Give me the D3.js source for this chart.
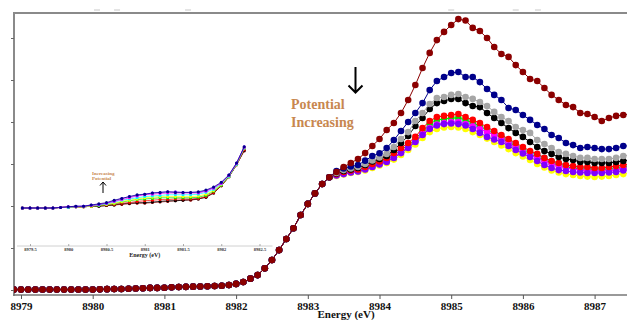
<!DOCTYPE html>
<html>
<head>
<meta charset="utf-8">
<script src="https://cdn.jsdelivr.net/npm/d3@7"></script>
<style>
  body { margin: 0; background: #fff; }
  figure { margin: 0; }
</style>
</head>
<body>
<figure id="xanes"></figure>
<script>
// Energy grid of the main plot (eV)
const energy = [
  8978.9,
  8979.0, 8979.1, 8979.2, 8979.3, 8979.4, 8979.5, 8979.6, 8979.7, 8979.8, 8979.9,
  8980.0, 8980.1, 8980.2, 8980.3, 8980.4, 8980.5, 8980.6, 8980.7, 8980.8, 8980.9,
  8981.0, 8981.1, 8981.2, 8981.3, 8981.4, 8981.5, 8981.6, 8981.7, 8981.8, 8981.9,
  8982.0, 8982.1, 8982.2, 8982.3, 8982.4, 8982.5, 8982.6, 8982.7, 8982.8, 8982.9,
  8983.0, 8983.1, 8983.2, 8983.3, 8983.4, 8983.5, 8983.6, 8983.7, 8983.8, 8983.9,
  8984.0, 8984.1, 8984.2, 8984.3, 8984.4, 8984.5, 8984.6, 8984.7, 8984.8, 8984.9,
  8985.0, 8985.1, 8985.2, 8985.3, 8985.4, 8985.5, 8985.6, 8985.7, 8985.8, 8985.9,
  8986.0, 8986.1, 8986.2, 8986.3, 8986.4, 8986.5, 8986.6, 8986.7, 8986.8, 8986.9,
  8987.0, 8987.1, 8987.2, 8987.3, 8987.4, 8987.5
];

// All scans overlap up to 8983.3 eV
const edgeRise = [
  0.002,
  0.002, 0.002, 0.002, 0.002, 0.002, 0.002, 0.002, 0.002, 0.002, 0.002,
  0.002, 0.003, 0.004, 0.005, 0.005, 0.006, 0.007, 0.008, 0.010, 0.010,
  0.011, 0.013, 0.014, 0.015, 0.016, 0.017, 0.018, 0.019, 0.020, 0.024,
  0.029, 0.038, 0.054, 0.071, 0.103, 0.143, 0.190, 0.243, 0.294, 0.357,
  0.410, 0.460, 0.505, 0.537
];

// From 8983.4 eV on, one list per scan
const darkRedTail = [
  0.562, 0.586, 0.605, 0.624, 0.652, 0.686, 0.719, 0.762, 0.795, 0.843,
  0.905, 0.976, 1.057, 1.129, 1.190, 1.229, 1.262, 1.290, 1.283, 1.248,
  1.233, 1.200, 1.157, 1.124, 1.110, 1.071, 1.038, 1.005, 0.995, 0.962,
  0.929, 0.905, 0.881, 0.871, 0.843, 0.838, 0.824, 0.805, 0.819, 0.829,
  0.833, 0.838
];
const navyTail = [
  0.567, 0.579, 0.588, 0.595, 0.616, 0.638, 0.651, 0.676, 0.714, 0.757,
  0.800, 0.843, 0.890, 0.952, 0.995, 1.014, 1.033, 1.038, 1.014, 1.014,
  0.990, 0.957, 0.929, 0.905, 0.867, 0.857, 0.833, 0.810, 0.786, 0.767,
  0.738, 0.724, 0.700, 0.690, 0.676, 0.681, 0.676, 0.671, 0.671, 0.676,
  0.686, 0.686
];
const grayTail = [
  0.557, 0.571, 0.579, 0.586, 0.600, 0.617, 0.631, 0.648, 0.681, 0.719,
  0.752, 0.805, 0.843, 0.886, 0.914, 0.919, 0.929, 0.933, 0.919, 0.910,
  0.895, 0.876, 0.848, 0.824, 0.805, 0.776, 0.762, 0.748, 0.714, 0.695,
  0.676, 0.657, 0.648, 0.638, 0.629, 0.629, 0.624, 0.624, 0.624, 0.629,
  0.638, 0.643
];
const blackTail = [
  0.555, 0.567, 0.574, 0.581, 0.595, 0.612, 0.624, 0.638, 0.667, 0.700,
  0.733, 0.781, 0.819, 0.862, 0.890, 0.900, 0.910, 0.910, 0.890, 0.876,
  0.871, 0.843, 0.819, 0.795, 0.771, 0.748, 0.729, 0.705, 0.681, 0.662,
  0.648, 0.633, 0.624, 0.619, 0.610, 0.610, 0.605, 0.605, 0.605, 0.610,
  0.614, 0.619
];
const redTail = [
  0.552, 0.562, 0.569, 0.574, 0.586, 0.600, 0.612, 0.629, 0.652, 0.676,
  0.700, 0.729, 0.771, 0.805, 0.824, 0.829, 0.833, 0.838, 0.824, 0.810,
  0.795, 0.776, 0.757, 0.738, 0.719, 0.700, 0.681, 0.662, 0.648, 0.629,
  0.614, 0.605, 0.595, 0.590, 0.586, 0.586, 0.581, 0.581, 0.586, 0.590,
  0.595, 0.600
];
const greenTail = [
  0.550, 0.560, 0.567, 0.571, 0.581, 0.595, 0.607, 0.621, 0.643, 0.667,
  0.690, 0.719, 0.757, 0.790, 0.810, 0.814, 0.819, 0.819, 0.810, 0.795,
  0.781, 0.762, 0.743, 0.724, 0.705, 0.686, 0.667, 0.648, 0.633, 0.619,
  0.605, 0.595, 0.586, 0.581, 0.576, 0.574, 0.571, 0.571, 0.574, 0.579,
  0.583, 0.588
];
const cyanTail = [
  0.548, 0.555, 0.562, 0.567, 0.576, 0.588, 0.600, 0.614, 0.633, 0.657,
  0.681, 0.710, 0.743, 0.771, 0.788, 0.795, 0.800, 0.800, 0.795, 0.786,
  0.776, 0.762, 0.748, 0.729, 0.712, 0.693, 0.674, 0.657, 0.643, 0.629,
  0.614, 0.605, 0.595, 0.588, 0.583, 0.581, 0.579, 0.579, 0.579, 0.583,
  0.588, 0.593
];
const magentaTail = [
  0.548, 0.555, 0.562, 0.567, 0.576, 0.588, 0.600, 0.614, 0.633, 0.657,
  0.681, 0.710, 0.743, 0.771, 0.788, 0.795, 0.800, 0.800, 0.790, 0.779,
  0.767, 0.752, 0.738, 0.719, 0.700, 0.679, 0.657, 0.643, 0.629, 0.614,
  0.600, 0.590, 0.581, 0.576, 0.571, 0.569, 0.567, 0.567, 0.567, 0.571,
  0.579, 0.583
];
const purpleTail = [
  0.545, 0.552, 0.560, 0.564, 0.574, 0.586, 0.598, 0.610, 0.629, 0.652,
  0.676, 0.705, 0.738, 0.767, 0.783, 0.790, 0.793, 0.790, 0.783, 0.767,
  0.748, 0.729, 0.717, 0.705, 0.686, 0.667, 0.650, 0.633, 0.614, 0.595,
  0.581, 0.571, 0.567, 0.562, 0.560, 0.557, 0.557, 0.557, 0.560, 0.562,
  0.569, 0.574
];
const yellowTail = [
  0.543, 0.550, 0.557, 0.562, 0.569, 0.581, 0.593, 0.605, 0.621, 0.643,
  0.667, 0.693, 0.724, 0.752, 0.767, 0.774, 0.776, 0.774, 0.767, 0.752,
  0.738, 0.721, 0.705, 0.688, 0.671, 0.652, 0.636, 0.619, 0.600, 0.583,
  0.569, 0.560, 0.552, 0.548, 0.543, 0.540, 0.538, 0.540, 0.543, 0.548,
  0.552, 0.557
];

const xTicks = [8979, 8980, 8981, 8982, 8983, 8984, 8985, 8986, 8987];
const yTicks = [0, 0.2, 0.4, 0.6, 0.8, 1.0, 1.2];
const topMarks = [8980.06, 8980.34, 8981.33, 8985.0, 8985.9, 8986.21];

// Pre-edge inset
const insetEnergy = [
  8979.4, 8979.5, 8979.6, 8979.7, 8979.8, 8979.9, 8980.0, 8980.1, 8980.2, 8980.3,
  8980.4, 8980.5, 8980.6, 8980.7, 8980.8, 8980.9, 8981.0, 8981.1, 8981.2, 8981.3,
  8981.4, 8981.5, 8981.6, 8981.7, 8981.8, 8981.9, 8982.0, 8982.1, 8982.2, 8982.3
];
const insetDarkRed = [
  0, 0, 0, 0, 0, 0.001, 0.001, 0.002, 0.002, 0.003,
  0.003, 0.004, 0.005, 0.006, 0.007, 0.008, 0.008, 0.009, 0.010, 0.011,
  0.012, 0.013, 0.013, 0.015, 0.018, 0.025, 0.037, 0.052, 0.072, 0.095
];
const insetBlack = [
  0, 0, 0, 0, 0, 0.001, 0.001, 0.002, 0.002, 0.003,
  0.003, 0.004, 0.005, 0.007, 0.008, 0.009, 0.009, 0.010, 0.011, 0.012,
  0.012, 0.013, 0.014, 0.015, 0.018, 0.025, 0.037, 0.052, 0.072, 0.096
];
const insetRed = [
  0, 0, 0, 0, 0, 0.001, 0.001, 0.002, 0.002, 0.003,
  0.004, 0.005, 0.006, 0.008, 0.009, 0.011, 0.012, 0.013, 0.014, 0.014,
  0.015, 0.015, 0.015, 0.016, 0.019, 0.026, 0.037, 0.052, 0.072, 0.097
];
const insetGreen = [
  0, 0, 0, 0, 0, 0.001, 0.001, 0.002, 0.002, 0.003,
  0.004, 0.006, 0.007, 0.010, 0.012, 0.014, 0.015, 0.016, 0.017, 0.017,
  0.017, 0.017, 0.017, 0.018, 0.021, 0.028, 0.038, 0.052, 0.073, 0.099
];
const insetYellow = [
  0, 0, 0, 0, 0, 0.001, 0.001, 0.002, 0.002, 0.003,
  0.005, 0.006, 0.008, 0.011, 0.013, 0.015, 0.017, 0.018, 0.019, 0.019,
  0.019, 0.019, 0.019, 0.020, 0.023, 0.029, 0.039, 0.053, 0.073, 0.100
];
const insetCyan = [
  0, 0, 0, 0, 0, 0.001, 0.001, 0.002, 0.003, 0.004,
  0.005, 0.007, 0.010, 0.013, 0.015, 0.017, 0.019, 0.020, 0.021, 0.022,
  0.022, 0.022, 0.022, 0.023, 0.026, 0.031, 0.040, 0.053, 0.073, 0.100
];
const insetMagenta = [
  0, 0, 0, 0, 0, 0.001, 0.002, 0.002, 0.003, 0.004,
  0.006, 0.008, 0.011, 0.014, 0.017, 0.020, 0.022, 0.023, 0.024, 0.025,
  0.025, 0.025, 0.025, 0.025, 0.028, 0.033, 0.041, 0.054, 0.074, 0.101
];
const insetPurple = [
  0, 0, 0, 0, 0, 0.001, 0.002, 0.003, 0.003, 0.005,
  0.006, 0.008, 0.012, 0.016, 0.019, 0.021, 0.023, 0.025, 0.026, 0.027,
  0.027, 0.026, 0.026, 0.026, 0.029, 0.034, 0.042, 0.055, 0.075, 0.102
];
const insetNavy = [
  0, 0, 0, 0, 0, 0.001, 0.002, 0.003, 0.003, 0.005,
  0.007, 0.009, 0.013, 0.016, 0.019, 0.022, 0.023, 0.025, 0.026, 0.027,
  0.026, 0.026, 0.026, 0.027, 0.030, 0.035, 0.043, 0.055, 0.075, 0.102
];
const insetTicks = [8979.5, 8980, 8980.5, 8981, 8981.5, 8982, 8982.5];

const serif = '"Liberation Serif", "Times New Roman", serif';
const noteColor = '#C8874F';

const width = 627;
const height = 320;

const svg = d3.select('figure#xanes')
  .append('svg')
  .attr('width', width)
  .attr('height', height);

// Main scales
const x = d3.scaleLinear().domain([8979, 8987]).range([21, 594.6]);
const y = d3.scaleLinear().domain([0, 1.2]).range([290, 38]);

// Inset scales
const ix = d3.scaleLinear().domain([8979.5, 8982.5]).range([30, 259.5]);
const iy = d3.scaleLinear().domain([0, 0.1]).range([208, 148]);

// Frame: top border and left axis
svg.append('line')
  .attr('x1', 13).attr('x2', width).attr('y1', 13).attr('y2', 13)
  .attr('stroke', '#8a8a8a').attr('stroke-width', 2);
svg.append('line')
  .attr('x1', 14).attr('x2', 14).attr('y1', 12).attr('y2', 296)
  .attr('stroke', '#8a8a8a').attr('stroke-width', 2);

svg.append('g')
  .selectAll('line')
  .data(topMarks)
  .enter()
  .append('line')
  .attr('x1', d => x(d) - 3).attr('x2', d => x(d) + 3)
  .attr('y1', 10).attr('y2', 10)
  .attr('stroke', '#c8c8c8').attr('stroke-width', 1);

// Left ticks (no labels)
const yAxis = svg.append('g')
  .attr('transform', 'translate(14,0)')
  .call(d3.axisLeft(y).tickValues(yTicks).tickSize(3).tickFormat(''));
yAxis.select('.domain').remove();
yAxis.selectAll('line').attr('stroke', '#666');

// Bottom axis
svg.append('line')
  .attr('x1', 13).attr('x2', width).attr('y1', 295).attr('y2', 295)
  .attr('stroke', '#777').attr('stroke-width', 1.5);
const xAxis = svg.append('g')
  .attr('transform', 'translate(0,295)')
  .call(d3.axisBottom(x).tickValues(xTicks).tickSize(4).tickFormat(d3.format('d')));
xAxis.select('.domain').remove();
xAxis.selectAll('line').attr('stroke', '#555');
xAxis.selectAll('text')
  .attr('fill', '#111')
  .style('font-family', serif)
  .style('font-weight', 'bold')
  .style('font-size', '11px');

svg.append('text')
  .attr('x', 346).attr('y', 317.5)
  .attr('text-anchor', 'middle')
  .style('font-family', serif).style('font-weight', 'bold').style('font-size', '11px')
  .attr('fill', '#111')
  .text('Energy (eV)');

// Inset: axis
svg.append('line')
  .attr('x1', ix(8979.33)).attr('x2', ix(8982.67)).attr('y1', 246).attr('y2', 246)
  .attr('stroke', '#c4c4c4').attr('stroke-width', 0.8);
const insetAxis = svg.append('g')
  .attr('transform', 'translate(0,246)')
  .call(d3.axisBottom(ix).tickValues(insetTicks).tickSize(-2).tickPadding(1.5).tickFormat(d => d));
insetAxis.select('.domain').remove();
insetAxis.selectAll('line').attr('stroke', '#777').attr('stroke-width', 0.6);
insetAxis.selectAll('text')
  .attr('fill', '#333')
  .style('font-family', serif)
  .style('font-weight', 'bold')
  .style('font-size', '4.5px');

svg.append('text')
  .attr('x', ix(8981)).attr('y', 257)
  .attr('text-anchor', 'middle')
  .style('font-family', serif).style('font-weight', 'bold').style('font-size', '6px')
  .attr('fill', '#222')
  .text('Energy (eV)');

// Inset: scans
const insetSeries = [
  { color: '#8B0000', values: insetDarkRed },
  { color: '#000000', values: insetBlack },
  { color: '#FF0000', values: insetRed },
  { color: '#00E000', values: insetGreen },
  { color: '#FFFF00', values: insetYellow },
  { color: '#00FFFF', values: insetCyan },
  { color: '#FF00FF', values: insetMagenta },
  { color: '#8000FF', values: insetPurple },
  { color: '#00008B', values: insetNavy }
];

const insetLine = d3.line()
  .x((d, i) => ix(insetEnergy[i]))
  .y(d => iy(d));

insetSeries.forEach(s => {
  const g = svg.append('g');
  g.append('path')
    .attr('d', insetLine(s.values))
    .attr('fill', 'none')
    .attr('stroke', s.color)
    .attr('stroke-width', 0.7);
  g.selectAll('circle')
    .data(s.values)
    .enter()
    .append('circle')
    .attr('cx', (d, i) => ix(insetEnergy[i]))
    .attr('cy', d => iy(d))
    .attr('r', 1.5)
    .attr('fill', s.color);
});

// Inset note
svg.append('text')
  .attr('x', 92).attr('y', 174.5)
  .style('font-family', serif).style('font-weight', 'bold').style('font-size', '5px')
  .attr('fill', noteColor)
  .text('Increasing');
svg.append('text')
  .attr('x', 92).attr('y', 179.5)
  .style('font-family', serif).style('font-weight', 'bold').style('font-size', '5px')
  .attr('fill', noteColor)
  .text('Potential');
svg.append('path')
  .attr('d', 'M103,193V182M100,185.5L103,182L106,185.5')
  .attr('fill', 'none').attr('stroke', '#000').attr('stroke-width', 1);

// Main scans
const series = [
  { name: 'yellow', color: '#FFFF00', tail: yellowTail },
  { name: 'cyan', color: '#00FFFF', tail: cyanTail },
  { name: 'green', color: '#00E000', tail: greenTail },
  { name: 'magenta', color: '#FF00FF', tail: magentaTail },
  { name: 'purple', color: '#8000FF', tail: purpleTail },
  { name: 'red', color: '#FF0000', tail: redTail },
  { name: 'black', color: '#000000', tail: blackTail },
  { name: 'gray', color: '#A6A6A6', tail: grayTail },
  { name: 'navy', color: '#00008B', tail: navyTail },
  { name: 'darkred', color: '#8B0000', tail: darkRedTail }
];

svg.append('clipPath')
  .attr('id', 'plot-clip')
  .append('rect')
  .attr('x', 14).attr('y', 13).attr('width', width - 14).attr('height', 282);

const plot = svg.append('g').attr('clip-path', 'url(#plot-clip)');

const line = d3.line()
  .x((d, i) => x(energy[i]))
  .y(d => y(d));

series.forEach(s => {
  const values = edgeRise.concat(s.tail);
  const g = plot.append('g');
  g.append('path')
    .attr('d', line(values))
    .attr('fill', 'none')
    .attr('stroke', s.color)
    .attr('stroke-width', 1);
  g.selectAll('circle')
    .data(values)
    .enter()
    .append('circle')
    .attr('cx', (d, i) => x(energy[i]))
    .attr('cy', d => y(d))
    .attr('r', 3.3)
    .attr('fill', s.color);
});

// Main note
svg.append('text')
  .attr('x', 291).attr('y', 109)
  .style('font-family', serif).style('font-weight', 'bold').style('font-size', '14px')
  .attr('fill', noteColor)
  .text('Potential');
svg.append('text')
  .attr('x', 291).attr('y', 127)
  .style('font-family', serif).style('font-weight', 'bold').style('font-size', '14px')
  .attr('fill', noteColor)
  .text('Increasing');
svg.append('path')
  .attr('d', 'M355.5,67V92.5M348.5,85.5L355.5,92.5L362.5,85.5')
  .attr('fill', 'none').attr('stroke', '#000').attr('stroke-width', 2);
</script>
</body>
</html>
